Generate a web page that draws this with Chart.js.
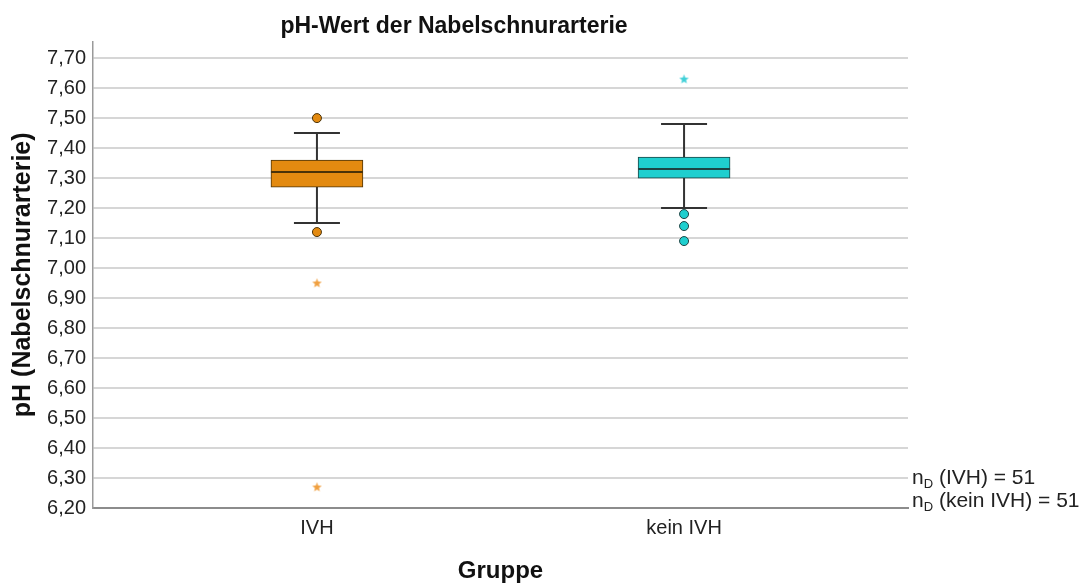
<!DOCTYPE html>
<html>
<head>
<meta charset="utf-8">
<script src="https://cdn.jsdelivr.net/npm/chart.js@4"></script>
<style>
  html, body { margin: 0; padding: 0; background: #fff; }
  #wrap { width: 1086px; height: 586px; }
</style>
</head>
<body>
<div id="wrap"><canvas id="chart" width="1086" height="586"></canvas></div>
<script>
/* ---------- data ---------- */
const groups = ['IVH', 'kein IVH'];
const groupPos = [1, 2];
const q1 = [7.27, 7.30];
const median = [7.32, 7.33];
const q3 = [7.36, 7.37];
const whiskerLow = [7.15, 7.20];
const whiskerHigh = [7.45, 7.48];
const outliersIVH = [7.50, 7.12];
const outliersKein = [7.18, 7.14, 7.09];
const extremesIVH = [6.95, 6.27];
const extremesKein = [7.63];
const yTicks = [6.2, 6.3, 6.4, 6.5, 6.6, 6.7, 6.8, 6.9, 7.0, 7.1, 7.2, 7.3, 7.4, 7.5, 7.6, 7.7];
const notes = [['IVH', 51], ['kein IVH', 51]];

const fillColors = ['#E38A10', '#1FCFCF'];
const edgeColors = ['#4a3208', '#1c4444'];
const FONT = "'Liberation Sans', Arial, sans-serif";

function fmt(v) {
  return v.toFixed(2).replace('.', ',');
}

// small filled 5-point star used as point style for extreme values
function starImage(color) {
  const c = document.createElement('canvas');
  c.width = 11; c.height = 11;
  const g = c.getContext('2d');
  g.fillStyle = color;
  g.beginPath();
  for (let k = 0; k < 10; k++) {
    const r = k % 2 === 0 ? 5 : 2.1;
    const a = -Math.PI / 2 + k * Math.PI / 5;
    const px = 5.5 + r * Math.cos(a), py = 5.8 + r * Math.sin(a);
    if (k === 0) g.moveTo(px, py); else g.lineTo(px, py);
  }
  g.closePath();
  g.fill();
  return c;
}

/* ---------- whiskers + median, drawn through the scales ---------- */
const boxExtras = {
  id: 'boxExtras',
  beforeDatasetsDraw(chart) {
    const { ctx, scales: { x, y } } = chart;
    ctx.save();
    ctx.strokeStyle = '#333';
    ctx.lineWidth = 2;
    for (let i = 0; i < groups.length; i++) {
      const cx = x.getPixelForValue(groupPos[i]);
      const capHalf = 23;
      ctx.beginPath();
      ctx.moveTo(cx, y.getPixelForValue(whiskerHigh[i]));
      ctx.lineTo(cx, y.getPixelForValue(q3[i]));
      ctx.moveTo(cx, y.getPixelForValue(q1[i]));
      ctx.lineTo(cx, y.getPixelForValue(whiskerLow[i]));
      ctx.moveTo(cx - capHalf, y.getPixelForValue(whiskerHigh[i]));
      ctx.lineTo(cx + capHalf, y.getPixelForValue(whiskerHigh[i]));
      ctx.moveTo(cx - capHalf, y.getPixelForValue(whiskerLow[i]));
      ctx.lineTo(cx + capHalf, y.getPixelForValue(whiskerLow[i]));
      ctx.stroke();
    }
    ctx.restore();
  },
  afterDatasetsDraw(chart) {
    const { ctx, scales: { y } } = chart;
    const meta = chart.getDatasetMeta(0);
    ctx.save();
    ctx.lineWidth = 2;
    for (let i = 0; i < groups.length; i++) {
      const bar = meta.data[i];
      const half = bar.width / 2;
      const my = y.getPixelForValue(median[i]);
      ctx.strokeStyle = edgeColors[i];
      ctx.beginPath();
      ctx.moveTo(bar.x - half, my);
      ctx.lineTo(bar.x + half, my);
      ctx.stroke();
    }
    ctx.restore();
  }
};

/* ---------- n_D notes at the right ---------- */
const sideNotes = {
  id: 'sideNotes',
  afterDraw(chart) {
    const { ctx, chartArea } = chart;
    ctx.save();
    ctx.fillStyle = '#222';
    ctx.textBaseline = 'alphabetic';
    notes.forEach((n, i) => {
      let xx = chartArea.right + 4;
      const yy = 484 + i * 23;
      ctx.font = '21px ' + FONT;
      ctx.fillText('n', xx, yy);
      xx += ctx.measureText('n').width;
      ctx.font = '13px ' + FONT;
      ctx.fillText('D', xx, yy + 4);
      xx += ctx.measureText('D').width;
      ctx.font = '21px ' + FONT;
      ctx.fillText(' (' + n[0] + ') = ' + n[1], xx, yy);
    });
    ctx.restore();
  }
};

function pts(values, pos) {
  return values.map(v => ({ x: pos, y: v }));
}

new Chart(document.getElementById('chart'), {
  type: 'bar',
  data: {
    datasets: [
      {
        label: 'Box',
        data: groupPos.map((p, i) => ({ x: p, y: [q1[i], q3[i]] })),
        backgroundColor: fillColors,
        borderColor: edgeColors,
        borderWidth: 1,
        borderSkipped: false,
        barThickness: 92
      },
      {
        type: 'line', label: 'Ausreißer IVH', data: pts(outliersIVH, 1), showLine: false,
        pointStyle: 'circle', pointRadius: 4.5, backgroundColor: fillColors[0],
        borderColor: edgeColors[0], borderWidth: 1
      },
      {
        type: 'line', label: 'Ausreißer kein IVH', data: pts(outliersKein, 2), showLine: false,
        pointStyle: 'circle', pointRadius: 4.5, backgroundColor: fillColors[1],
        borderColor: edgeColors[1], borderWidth: 1
      },
      {
        type: 'line', label: 'Extrem IVH', data: pts(extremesIVH, 1), showLine: false,
        pointStyle: starImage('#F0A040'), pointRadius: 5
      },
      {
        type: 'line', label: 'Extrem kein IVH', data: pts(extremesKein, 2), showLine: false,
        pointStyle: starImage('#40D0D8'), pointRadius: 5
      }
    ]
  },
  options: {
    responsive: false,
    animation: false,
    layout: { padding: { left: 0, right: 178, top: 0, bottom: 0 } },
    plugins: {
      legend: { display: false },
      tooltip: { enabled: false },
      title: {
        display: true,
        text: 'pH-Wert der Nabelschnurarterie',
        color: '#111',
        font: { family: FONT, size: 23, weight: 'bold' },
        padding: { top: 13, bottom: 1 }
      }
    },
    scales: {
      x: {
        type: 'linear',
        offset: false,
        min: 0.39,
        max: 2.61,
        afterBuildTicks: s => { s.ticks = groupPos.map(v => ({ value: v })); },
        afterFit: s => { s.height = 78; },
        ticks: {
          callback: v => groups[groupPos.indexOf(v)] || '',
          color: '#222',
          font: { family: FONT, size: 20 },
          padding: 8,
          maxRotation: 0
        },
        grid: { display: false, drawTicks: false },
        border: { color: '#8c8c8c', width: 2 },
        title: {
          display: true,
          text: 'Gruppe',
          color: '#111',
          font: { family: FONT, size: 24, weight: 'bold' },
          padding: { top: 0, bottom: 0 }
        }
      },
      y: {
        min: 6.2,
        max: 7.755,
        afterBuildTicks: s => { s.ticks = yTicks.map(v => ({ value: v })); },
        afterFit: s => { s.width = 93; },
        ticks: {
          callback: v => fmt(v),
          color: '#222',
          font: { family: FONT, size: 20 },
          padding: 7
        },
        grid: { color: '#d6d6d6', lineWidth: 2, drawTicks: false },
        border: { color: '#9a9a9a', width: 1.5 },
        title: {
          display: true,
          text: 'pH (Nabelschnurarterie)',
          color: '#111',
          font: { family: FONT, size: 25, weight: 'bold' },
          padding: { top: 8, bottom: 0 }
        }
      }
    }
  },
  plugins: [boxExtras, sideNotes]
});
</script>
</body>
</html>
